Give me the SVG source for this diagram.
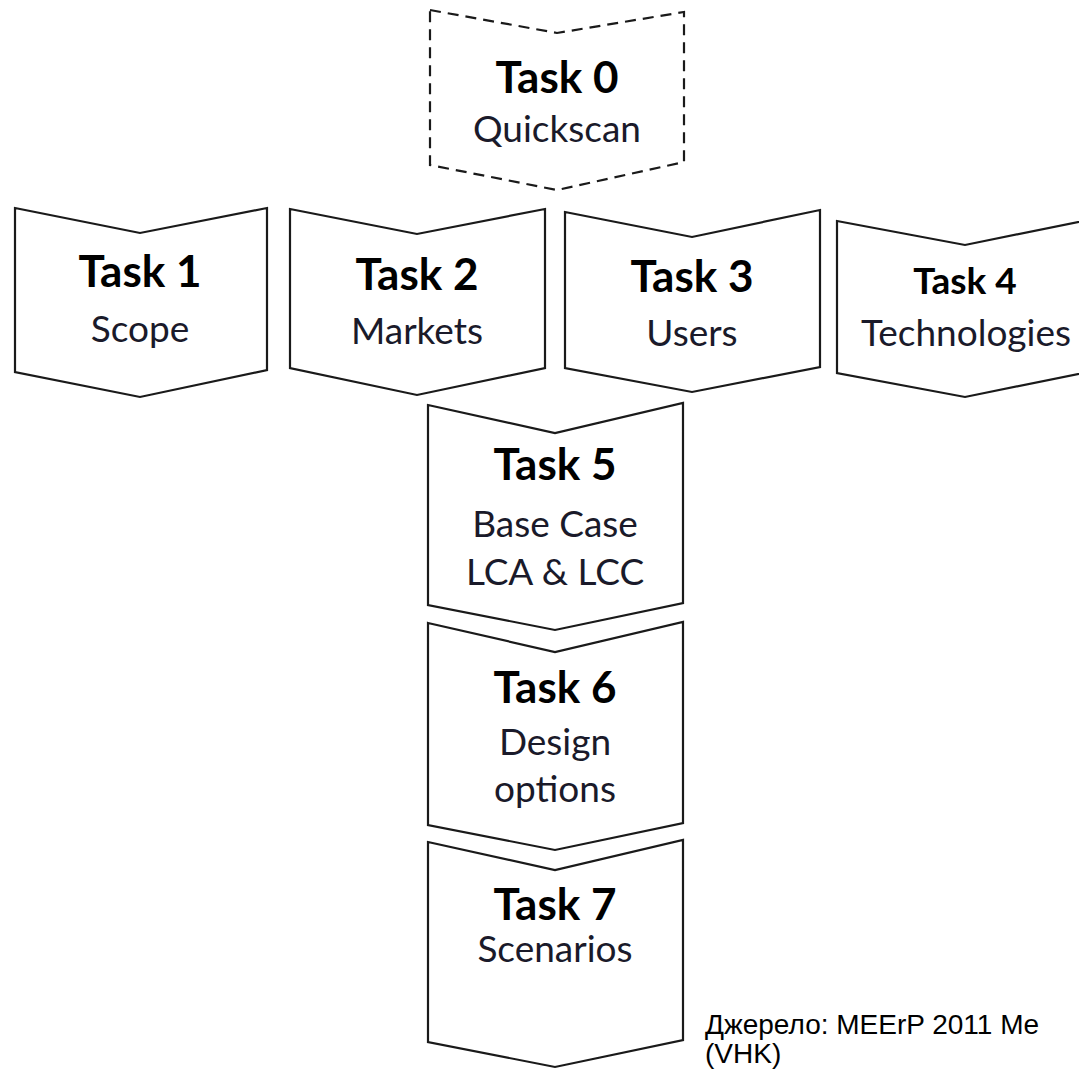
<svg xmlns="http://www.w3.org/2000/svg" width="1079" height="1069" viewBox="0 0 1079 1069">
<style>
.shape{fill:#fff;stroke:#1a1a1a;stroke-width:2.2;stroke-linejoin:miter}
.dash{stroke-dasharray:11 7}
.t{font-family:Lato,"Open Sans",sans-serif;font-weight:700;font-size:44px;fill:#000;text-anchor:middle}
.t4{font-size:37px}
.s{font-family:Lato,"Open Sans",sans-serif;font-size:37px;fill:#1a1a2a;text-anchor:middle}
.src{font-family:"Liberation Sans",Arial,sans-serif;font-size:28px;fill:#000}
</style>
<rect width="1079" height="1069" fill="#fff"/>
<g id="connectors"/>
<g id="task0">
<polygon class="shape dash" points="430,10 557,33 684,12 684,162 557,190 430,165"/>
<text class="t" x="557" y="93">Task 0</text>
<text class="s" x="557" y="142">Quickscan</text>
</g>
<g id="task1">
<polygon class="shape" points="15,208 140,233 267,208 267,370 140,397 15,372"/>
<text class="t" x="140" y="287">Task 1</text>
<text class="s" x="140" y="342">Scope</text>
</g>
<g id="task2">
<polygon class="shape" points="290,209 417,234 545,209 545,368 417,395 290,368"/>
<text class="t" x="417" y="290">Task 2</text>
<text class="s" x="417" y="344">Markets</text>
</g>
<g id="task3">
<polygon class="shape" points="565,212 692,237 820,210 820,367 692,392 565,368"/>
<text class="t" x="692" y="292">Task 3</text>
<text class="s" x="692" y="346">Users</text>
</g>
<g id="task4">
<polygon class="shape" points="837,221 965,245 1093,219 1093,371 965,397 837,373"/>
<text class="t t4" x="965" y="294">Task 4</text>
<text class="s" x="966" y="346">Technologies</text>
</g>
<g id="task5">
<polygon class="shape" points="428,405 555,433 683,403 683,603 555,630 428,605"/>
<text class="t" x="555" y="480">Task 5</text>
<text class="s" x="555" y="537">Base Case</text>
<text class="s" x="555" y="585">LCA &amp; LCC</text>
</g>
<g id="task6">
<polygon class="shape" points="428,623 555,652 683,622 683,823 555,850 428,825"/>
<text class="t" x="555" y="703">Task 6</text>
<text class="s" x="555" y="755">Design</text>
<text class="s" x="555" y="802">options</text>
</g>
<g id="task7">
<polygon class="shape" points="428,842 555,870 683,840 683,1040 555,1067 428,1042"/>
<text class="t" x="555" y="920">Task 7</text>
<text class="s" x="555" y="962">Scenarios</text>
</g>
<g id="source">
<text class="src" x="705" y="1034">Джерело: MEErP 2011 Me</text>
<text class="src" x="705" y="1063">(VHK)</text>
</g>
</svg>
